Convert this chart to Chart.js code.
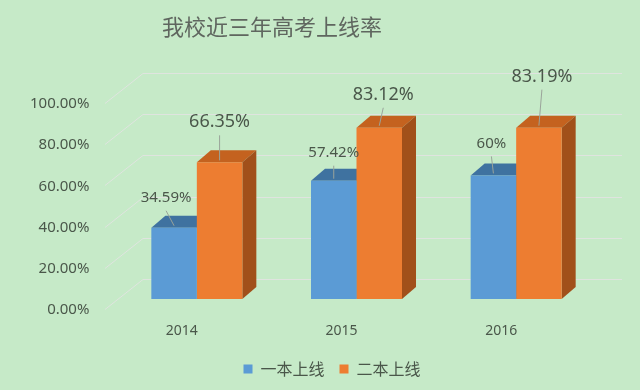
<!DOCTYPE html>
<html lang="zh-CN">
<head>
<meta charset="UTF-8">
<title>我校近三年高考上线率</title>
<script src="https://cdn.jsdelivr.net/npm/chart.js"></script>
<style>
  html, body { margin: 0; padding: 0; background: #c6eac8; }
  #wrap { width: 640px; height: 390px; position: relative; }
</style>
</head>
<body>
<div id="wrap"><canvas id="rateChart"></canvas></div>
<script>
const chartTitle = '我校近三年高考上线率';
const years = ['2014', '2015', '2016'];
const seriesNames = ['一本上线', '二本上线'];
const firstTier = [34.59, 57.42, 60];
const secondTier = [66.35, 83.12, 83.19];
const yTicks = [0, 20, 40, 60, 80, 100];

// front / top / side colours of the fake 3d bars
const faceColors = [
  { front: '#5b9bd5', top: '#3f72a0', side: '#2f5f8a' },
  { front: '#ed7d31', top: '#c4621f', side: '#a1501a' }
];
// the value labels were dragged by hand in the original, keep those nudges
const labelLift = [[30, 28, 32], [40, 33, 51]];
const labelShift = [[-8, 0, -2], [0, 4, 3]];

const DEPTH_X = 14, DEPTH_Y = -12;   // bar depth
const WALL_X = 26, WALL_Y = -20;     // back wall, relative to bar plane
const SIDE_X = -12, SIDE_Y = 10;     // front edge of the side wall
const gridColor = 'rgba(224,228,224,0.95)';
const textColor = '#4a574a';
const NUM_FONT = '"Noto Sans", "DejaVu Sans", sans-serif';
const CJK_FONT = '"Noto Sans CJK SC", "Noto Sans", sans-serif';

const box3d = {
  id: 'box3d',
  beforeDatasetsDraw(chart) {
    const { ctx, chartArea: a, scales: { y } } = chart;
    ctx.save();
    ctx.strokeStyle = gridColor;
    ctx.lineWidth = 1;
    yTicks.forEach(v => {
      const py = Math.round(y.getPixelForValue(v)) + 0.5;
      ctx.beginPath();
      ctx.moveTo(a.left + SIDE_X, py + SIDE_Y);
      ctx.lineTo(a.left + WALL_X, py + WALL_Y);
      ctx.lineTo(a.right + WALL_X, py + WALL_Y);
      ctx.stroke();
    });
    chart.data.datasets.forEach((ds, i) => {
      chart.getDatasetMeta(i).data.forEach(bar => {
        const l = bar.x - bar.width / 2, r = bar.x + bar.width / 2;
        const t = bar.y, b = bar.base;
        ctx.fillStyle = faceColors[i].top;
        ctx.beginPath();
        ctx.moveTo(l, t);
        ctx.lineTo(l + DEPTH_X, t + DEPTH_Y);
        ctx.lineTo(r + DEPTH_X, t + DEPTH_Y);
        ctx.lineTo(r, t);
        ctx.closePath();
        ctx.fill();
        ctx.fillStyle = faceColors[i].side;
        ctx.beginPath();
        ctx.moveTo(r, t);
        ctx.lineTo(r + DEPTH_X, t + DEPTH_Y);
        ctx.lineTo(r + DEPTH_X, b + DEPTH_Y);
        ctx.lineTo(r, b);
        ctx.closePath();
        ctx.fill();
      });
    });
    ctx.restore();
  },
  afterDatasetsDraw(chart) {
    const { ctx } = chart;
    ctx.save();
    ctx.textAlign = 'center';
    ctx.textBaseline = 'middle';
    chart.data.datasets.forEach((ds, i) => {
      const size = i === 0 ? 15 : 18;
      ctx.font = size + 'px ' + NUM_FONT;
      chart.getDatasetMeta(i).data.forEach((bar, j) => {
        const lx = bar.x + labelShift[i][j];
        const ly = bar.y - labelLift[i][j];
        ctx.strokeStyle = '#9aa39a';
        ctx.lineWidth = 1;
        ctx.beginPath();
        ctx.moveTo(lx, ly + 13);
        ctx.lineTo(bar.x, bar.y - 2);
        ctx.stroke();
        ctx.fillStyle = textColor;
        ctx.fillText(ds.data[j] + '%', lx, ly);
      });
    });
    ctx.restore();
  },
  afterDraw(chart) {
    const { ctx } = chart;
    ctx.save();
    ctx.font = '22px ' + CJK_FONT;
    ctx.fillStyle = '#5f665f';
    ctx.textAlign = 'center';
    ctx.textBaseline = 'middle';
    ctx.fillText(chartTitle, 272, 27);
    ctx.restore();
  }
};

new Chart(document.getElementById('rateChart'), {
  type: 'bar',
  data: {
    labels: years,
    datasets: [
      { label: seriesNames[0], data: firstTier, backgroundColor: faceColors[0].front, borderWidth: 0 },
      { label: seriesNames[1], data: secondTier, backgroundColor: faceColors[1].front, borderWidth: 0 }
    ]
  },
  options: {
    responsive: true,
    maintainAspectRatio: false,
    animation: false,
    // left padding only moves the centred legend; the y axis keeps x = 117
    layout: { padding: { left: 68, right: 44, top: 93, bottom: 3 } },
    datasets: { bar: { categoryPercentage: 0.57, barPercentage: 1 } },
    plugins: {
      title: { display: false },
      tooltip: { enabled: false },
      legend: {
        position: 'bottom',
        labels: {
          boxWidth: 9, boxHeight: 9, padding: 15,
          color: textColor,
          font: { size: 16, family: CJK_FONT }
        }
      }
    },
    scales: {
      x: {
        grid: { display: false, drawTicks: false },
        border: { display: false },
        ticks: { color: textColor, padding: 24, labelOffset: -15, font: { size: 14, family: NUM_FONT } },
        afterFit(scale) { scale.height = 47; }
      },
      y: {
        min: 0,
        max: 100,
        grid: { display: false, drawTicks: false },
        border: { display: false },
        ticks: {
          stepSize: 20,
          color: textColor,
          mirror: true,
          crossAlign: 'far',
          padding: -87,
          labelOffset: 11,
          font: { size: 15, family: NUM_FONT },
          callback: v => v.toFixed(2) + '%'
        },
        afterFit(scale) { scale.width = 49; }
      }
    }
  },
  plugins: [box3d]
});
</script>
</body>
</html>
